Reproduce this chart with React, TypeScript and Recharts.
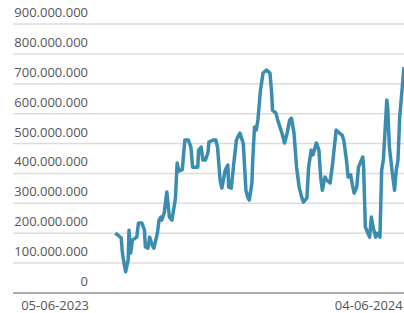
import React from 'react';
import { LineChart, Line, XAxis, YAxis, CartesianGrid } from 'recharts';

// days counted from 05-06-2023, values in millions
const dayOffsets = [
  70, 73, 77, 78, 79, 82, 85, 86, 88, 90, 95, 97, 101, 104, 105, 108, 110, 113, 115, 119,
  121, 123, 124, 127, 130, 133, 136, 140, 142, 144, 148, 151, 155, 158, 160, 166, 167, 170, 172, 175,
  178, 179, 184, 187, 189, 192, 194, 198, 201, 202, 205, 208, 211, 215, 219, 222, 224, 226, 229, 230,
  232, 234, 236, 239, 242, 246, 250, 252, 253, 257, 259, 264, 267, 270, 273, 275, 278, 281, 284, 287,
  289, 293, 295, 298, 300, 304, 307, 309, 311, 314, 316, 320, 323, 327, 331, 334, 336, 339, 341, 344,
  346, 348, 351, 353, 358, 359, 361, 364, 366, 368, 370, 373, 375, 378, 380, 382, 386, 387, 389, 392,
  395, 397, 399, 401, 404, 406,
];
const volumeMillions = [
  200, 194, 184, 144, 120, 71, 110, 210, 134, 177, 187, 234, 234, 210, 155, 150, 187, 160, 150, 200,
  244, 254, 244, 268, 338, 254, 244, 316, 435, 408, 413, 512, 512, 488, 421, 421, 478, 488, 445, 445,
  472, 505, 512, 512, 488, 378, 351, 411, 428, 354, 351, 435, 512, 535, 500, 345, 321, 311, 368, 445,
  555, 545, 579, 679, 736, 746, 736, 669, 612, 602, 579, 535, 502, 535, 579, 585, 535, 421, 354, 320,
  304, 318, 421, 478, 462, 502, 478, 388, 344, 388, 378, 368, 435, 545, 535, 528, 510, 445, 388, 395,
  361, 334, 354, 421, 455, 421, 221, 200, 187, 254, 221, 187, 200, 187, 411, 445, 646, 622, 488, 411,
  344, 411, 445, 589, 689, 756,
];

const yTicks = [0, 100, 200, 300, 400, 500, 600, 700, 800, 900].map((m) => m * 1e6);
const xTickDays = [0, 365];
const xTickLabels = ['05-06-2023', '04-06-2024'];

const data = dayOffsets.map((day, i) => ({ day, value: volumeMillions[i] * 1e6 }));

const fmt = (v: number) => String(Math.round(v)).replace(/\B(?=(\d{3})+(?!\d))/g, '.');

const YTick = (props: any) => {
  const { y, payload } = props;
  return (
    <text x={88} y={y - 7} textAnchor="end" fill="#555" fontSize={13} fontFamily="'Open Sans', sans-serif">
      {fmt(payload.value)}
    </text>
  );
};

const XTick = (props: any) => {
  const { x, y, payload } = props;
  const idx = xTickDays.indexOf(payload.value);
  return (
    <text x={x} y={y + 9} textAnchor="middle" fill="#555" fontSize={13} fontFamily="'Open Sans', sans-serif">
      {xTickLabels[idx]}
    </text>
  );
};

export default function App() {
  return (
    <div style={{ position: 'absolute', top: 0, left: 0, width: 404, height: 313, background: '#fff' }}>
      <LineChart width={404} height={313} data={data} margin={{ top: 24, right: 0, bottom: 0, left: 0 }}>
        <CartesianGrid vertical={false} stroke="#dcdcdc" strokeWidth={1.5} />
        <XAxis
          dataKey="day"
          type="number"
          domain={[-49, 406]}
          ticks={xTickDays}
          tick={<XTick />}
          tickLine={false}
          axisLine={{ stroke: '#999', strokeWidth: 1.5 }}
          height={20}
          allowDataOverflow
        />
        <YAxis
          domain={[0, 9e8]}
          ticks={yTicks}
          tick={<YTick />}
          width={13}
          axisLine={false}
          tickLine={false}
          interval={0}
        />
        <Line
          type="linear"
          dataKey="value"
          stroke="#3a8db0"
          strokeWidth={3.5}
          dot={false}
          strokeLinejoin="round"
          isAnimationActive={false}
        />
      </LineChart>
    </div>
  );
}
